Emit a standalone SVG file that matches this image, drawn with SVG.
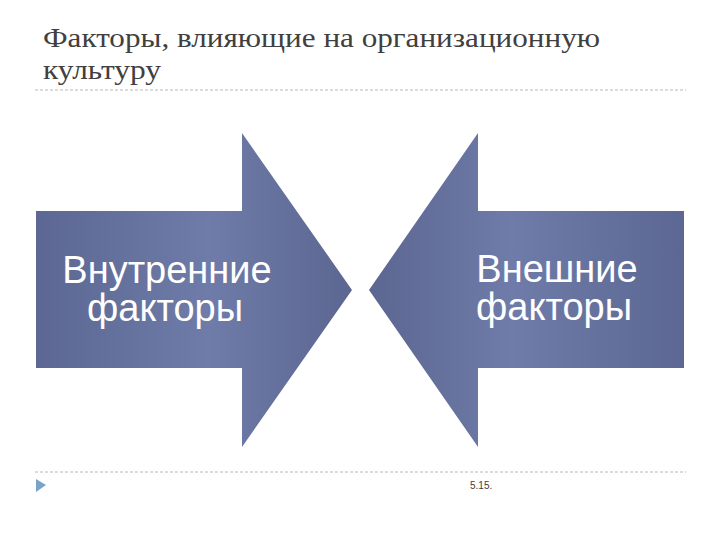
<svg xmlns="http://www.w3.org/2000/svg" width="720" height="540" viewBox="0 0 720 540">
<defs>
<linearGradient id="gL" x1="0" y1="0" x2="1" y2="0">
<stop offset="0" stop-color="#5c6893"/>
<stop offset="0.55" stop-color="#6f7ba8"/>
<stop offset="1" stop-color="#5b6691"/>
</linearGradient>
<linearGradient id="gR" x1="0" y1="0" x2="1" y2="0">
<stop offset="0" stop-color="#5b6691"/>
<stop offset="0.45" stop-color="#6f7ba8"/>
<stop offset="1" stop-color="#5c6893"/>
</linearGradient>
<style>
.t{font-family:"Liberation Sans",Arial,sans-serif;font-size:38px;fill:#ffffff;text-anchor:middle}
.title{font-family:"Liberation Serif","DejaVu Serif",serif;font-size:28px;fill:#404040}
.rule{stroke:#b8b8b8;stroke-width:1;stroke-dasharray:3 2;fill:none}
</style>
</defs>
<rect width="720" height="540" fill="#ffffff"/>
<g id="title">
<text class="title" x="43" y="47" textLength="557" lengthAdjust="spacingAndGlyphs">Факторы, влияющие на организационную</text>
<text class="title" x="43" y="79" textLength="118" lengthAdjust="spacingAndGlyphs">культуру</text>
</g>
<line class="rule" x1="35" y1="90" x2="686" y2="90"/>
<g id="inner">
<polygon points="36,211 242,211 242,133 352,290 242,447 242,368 36,368" fill="url(#gL)"/>
<text class="t"><tspan x="167" y="283">Внутренние</tspan><tspan x="165" y="321">факторы</tspan></text>
</g>
<g id="outer">
<polygon points="684,211 478,211 478,133 369,290 478,447 478,368 684,368" fill="url(#gR)"/>
<text class="t"><tspan x="557" y="282">Внешние</tspan><tspan x="554" y="320">факторы</tspan></text>
</g>
<g id="connectors"/>
<line class="rule" x1="35" y1="472" x2="686" y2="472"/>
<polygon points="36,479 46,485 36,492" fill="#7aa3c9"/>
<text x="470" y="489" font-family="'Liberation Sans',Arial,sans-serif" font-size="10" fill="#404040">5.15.</text>
</svg>
